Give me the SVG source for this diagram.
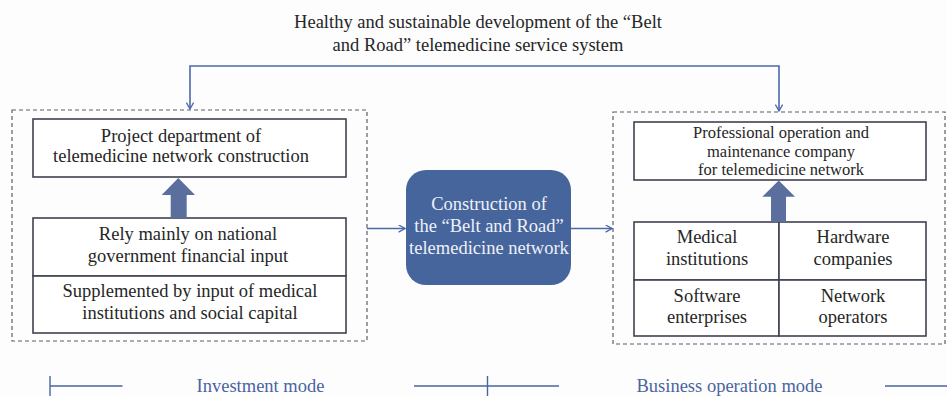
<svg xmlns="http://www.w3.org/2000/svg" width="947" height="396" viewBox="0 0 947 396">
<style>
text{font-family:"Liberation Serif","Times New Roman",serif;font-size:18.5px;fill:#262626;text-anchor:middle}
.tight{font-size:16.5px}
.box{fill:#ffffff;stroke:#3f4250;stroke-width:1.6}
.grp{fill:none;stroke:#5c5f6a;stroke-width:1.2;stroke-dasharray:4 3}
.con{fill:none;stroke:#4a6aa8;stroke-width:1.6}
.thick{fill:#5a6f9e}
.leg{fill:none;stroke:#4a64a0;stroke-width:1.4}
.legt{fill:#4a64a0}
.wt{fill:#eef1f8}
</style>
<defs>
<marker id="ah" viewBox="0 0 10 10" refX="9" refY="5" markerWidth="8" markerHeight="8" markerUnits="userSpaceOnUse" orient="auto-start-reverse">
<path d="M1,0.5 L9,5 L1,9.5" fill="none" stroke="#4a6aa8" stroke-width="1.6"/>
</marker>
</defs>
<rect width="947" height="396" fill="#fdfdfd"/>
<g id="title">
<text x="478" y="28">Healthy and sustainable development of the “Belt</text>
<text x="478" y="51">and Road” telemedicine service system</text>
</g>
<g id="investment-group">
<rect class="grp" x="12" y="110" width="355" height="231"/>
</g>
<g id="business-group">
<rect class="grp" x="613" y="112" width="332" height="232"/>
</g>
<g id="project-dept">
<rect class="box" x="33" y="119" width="313" height="58"/>
<text x="181" y="141.5">Project department of</text>
<text x="181" y="162">telemedicine network construction</text>
</g>
<g id="gov-input">
<rect class="box" x="33" y="218" width="313" height="58"/>
<text x="188" y="240">Rely mainly on national</text>
<text x="188" y="262">government financial input</text>
</g>
<g id="supplemented">
<rect class="box" x="33" y="276" width="313" height="57"/>
<text x="190" y="297">Supplemented by input of medical</text>
<text x="190" y="319">institutions and social capital</text>
</g>
<g id="central">
<rect x="406" y="170" width="165" height="115" rx="20" ry="20" fill="#46659c"/>
<text class="wt" x="489" y="209.5">Construction of</text>
<text class="wt" x="489" y="231.5">the “Belt and Road”</text>
<text class="wt" x="489" y="253.5">telemedicine network</text>
</g>
<g id="operation-company">
<rect class="box" x="634" y="122" width="292" height="58"/>
<text class="tight" x="781" y="138">Professional operation and</text>
<text class="tight" x="781" y="156.5">maintenance company</text>
<text class="tight" x="781" y="175">for telemedicine network</text>
</g>
<g id="medical-institutions">
<rect class="box" x="634" y="222" width="145" height="58"/>
<text x="707" y="243">Medical</text>
<text x="707" y="265">institutions</text>
</g>
<g id="hardware-companies">
<rect class="box" x="779" y="222" width="147" height="58"/>
<text x="853" y="243">Hardware</text>
<text x="853" y="265">companies</text>
</g>
<g id="software-enterprises">
<rect class="box" x="634" y="280" width="145" height="56"/>
<text x="707" y="301.5">Software</text>
<text x="707" y="323">enterprises</text>
</g>
<g id="network-operators">
<rect class="box" x="779" y="280" width="147" height="56"/>
<text x="853" y="301.5">Network</text>
<text x="853" y="323">operators</text>
</g>
<g id="connectors">
<path class="con" d="M190,109 V66 H779 V111" marker-start="url(#ah)" marker-end="url(#ah)"/>
<path class="con" d="M367,228.5 H405" marker-end="url(#ah)"/>
<path class="con" d="M571,228.5 H612" marker-end="url(#ah)"/>
<polygon class="thick" points="178.3,178 195,195 186.7,195 186.7,218 170.7,218 170.7,195 161.7,195"/>
<polygon class="thick" points="778.7,180.5 795,196.7 786,196.7 786,222 771,222 771,196.7 762.3,196.7"/>
</g>
<g id="legend">
<path class="leg" d="M50,376 V396 M50,386 H122.5 M414,386 H559 M487.5,376 V396 M885,386 H947"/>
<text class="legt" x="260.5" y="392">Investment mode</text>
<text class="legt" x="729.5" y="392">Business operation mode</text>
</g>
</svg>
